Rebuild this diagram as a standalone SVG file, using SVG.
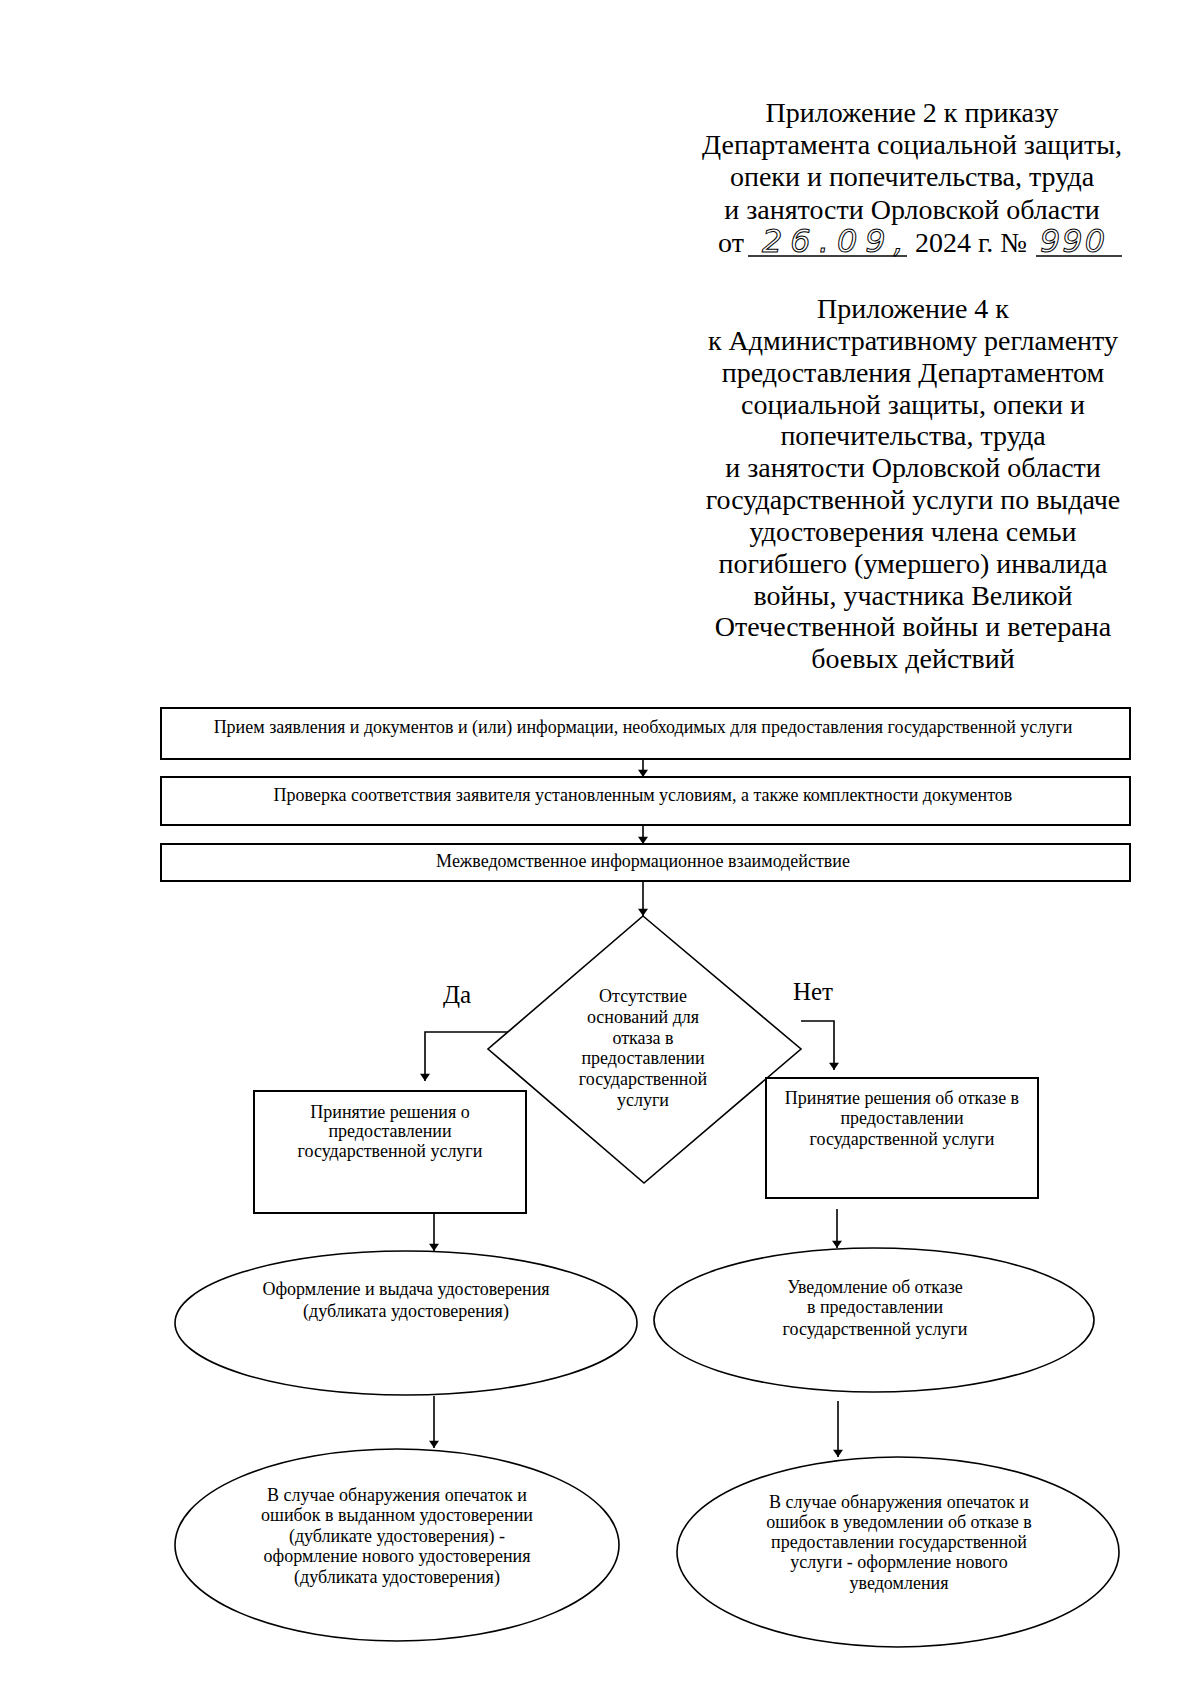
<svg xmlns="http://www.w3.org/2000/svg" width="1200" height="1702" viewBox="0 0 1200 1702">
<style>
  .hdr { font-family: "Liberation Serif", "Times New Roman", serif; font-size: 28px; fill: #000; text-anchor: middle; }
  .hdr-l { font-family: "Liberation Serif", "Times New Roman", serif; font-size: 28px; fill: #000; }
  .hand { font-family: "DejaVu Sans", sans-serif; font-style: italic; font-size: 32px; fill: none; stroke: #000; stroke-width: 1; letter-spacing: 8px; }
  .t { font-family: "Liberation Serif", "Times New Roman", serif; font-size: 18px; fill: #000; text-anchor: middle; }
  .lbl { font-family: "Liberation Serif", "Times New Roman", serif; font-size: 25px; fill: #000; text-anchor: middle; }
  .box { fill: #fff; stroke: #000; stroke-width: 2; }
  .shape { fill: #fff; stroke: #000; stroke-width: 1.6; }
  .conn { fill: none; stroke: #000; stroke-width: 1.6; marker-end: url(#arrow); }
  .ul { stroke: #000; stroke-width: 1.5; }
</style>
<defs>
  <marker id="arrow" viewBox="0 0 10 14" refX="10" refY="7" markerWidth="14" markerHeight="10" markerUnits="userSpaceOnUse" orient="auto">
    <path d="M0,0 L14,7 L0,14 z" transform="scale(0.714,1)" fill="#000"/>
  </marker>
</defs>
<rect x="0" y="0" width="1200" height="1702" fill="#fff"/>

<g id="header">
  <text class="hdr" x="912" y="122">Приложение 2 к приказу</text>
  <text class="hdr" x="912" y="154">Департамента социальной защиты,</text>
  <text class="hdr" x="912" y="186">опеки и попечительства, труда</text>
  <text class="hdr" x="912" y="219">и занятости Орловской области</text>
  <text class="hdr-l" x="718" y="252">от</text>
  <line class="ul" x1="748" y1="256" x2="907" y2="256"/>
  <text class="hand" x="762" y="252">26.09,</text>
  <text class="hdr-l" x="915" y="252">2024 г. №</text>
  <line class="ul" x1="1036" y1="256" x2="1122" y2="256"/>
  <text class="hand" x="1040" y="252" style="letter-spacing:2px">990</text>

  <text class="hdr" x="913" y="318">Приложение 4 к</text>
  <text class="hdr" x="913" y="350">к Административному регламенту</text>
  <text class="hdr" x="913" y="382">предоставления Департаментом</text>
  <text class="hdr" x="913" y="414">социальной защиты, опеки и</text>
  <text class="hdr" x="913" y="445">попечительства, труда</text>
  <text class="hdr" x="913" y="477">и занятости Орловской области</text>
  <text class="hdr" x="913" y="509">государственной услуги по выдаче</text>
  <text class="hdr" x="913" y="541">удостоверения члена семьи</text>
  <text class="hdr" x="913" y="573">погибшего (умершего) инвалида</text>
  <text class="hdr" x="913" y="605">войны, участника Великой</text>
  <text class="hdr" x="913" y="636">Отечественной войны и ветерана</text>
  <text class="hdr" x="913" y="668">боевых действий</text>
</g>

<g id="connectors">
  <line class="conn" x1="643" y1="759" x2="643" y2="777"/>
  <line class="conn" x1="643" y1="825" x2="643" y2="844"/>
  <line class="conn" x1="643" y1="881" x2="643" y2="916"/>
  <polyline class="conn" points="508,1032 425,1032 425,1081"/>
  <polyline class="conn" points="801,1021 834,1021 834,1070"/>
  <line class="conn" x1="434" y1="1213" x2="434" y2="1251"/>
  <line class="conn" x1="837" y1="1209" x2="837" y2="1248"/>
  <line class="conn" x1="434" y1="1396" x2="434" y2="1448"/>
  <line class="conn" x1="838" y1="1401" x2="838" y2="1457"/>
</g>

<g id="step1">
  <rect class="box" x="161" y="708" width="969" height="51"/>
  <text class="t" x="643" y="733">Прием заявления и документов и (или) информации, необходимых для предоставления государственной услуги</text>
</g>
<g id="step2">
  <rect class="box" x="161" y="777" width="969" height="48"/>
  <text class="t" x="643" y="801">Проверка соответствия заявителя установленным условиям, а также комплектности документов</text>
</g>
<g id="step3">
  <rect class="box" x="161" y="844" width="969" height="37"/>
  <text class="t" x="643" y="867">Межведомственное информационное взаимодействие</text>
</g>

<g id="decision">
  <polygon class="shape" points="643,916 801,1049 644,1183 488,1049"/>
  <text class="t" x="643" y="1002">Отсутствие</text>
  <text class="t" x="643" y="1023">оснований для</text>
  <text class="t" x="643" y="1044">отказа в</text>
  <text class="t" x="643" y="1064">предоставлении</text>
  <text class="t" x="643" y="1085">государственной</text>
  <text class="t" x="643" y="1106">услуги</text>
</g>

<g id="label-yes">
  <text class="lbl" x="457" y="1003">Да</text>
</g>
<g id="label-no">
  <text class="lbl" x="813" y="1000">Нет</text>
</g>

<g id="decision-yes">
  <rect class="box" x="254" y="1091" width="272" height="122"/>
  <text class="t" x="390" y="1118">Принятие решения о</text>
  <text class="t" x="390" y="1137">предоставлении</text>
  <text class="t" x="390" y="1157">государственной услуги</text>
</g>

<g id="decision-no">
  <rect class="box" x="766" y="1078" width="272" height="120"/>
  <text class="t" x="902" y="1104">Принятие решения об отказе в</text>
  <text class="t" x="902" y="1124">предоставлении</text>
  <text class="t" x="902" y="1145">государственной услуги</text>
</g>

<g id="issue">
  <ellipse class="shape" cx="406" cy="1323" rx="231" ry="72"/>
  <text class="t" x="406" y="1295">Оформление и выдача удостоверения</text>
  <text class="t" x="406" y="1317">(дубликата удостоверения)</text>
</g>

<g id="notify">
  <ellipse class="shape" cx="874" cy="1320" rx="220" ry="72"/>
  <text class="t" x="875" y="1293">Уведомление об отказе</text>
  <text class="t" x="875" y="1313">в предоставлении</text>
  <text class="t" x="875" y="1335">государственной услуги</text>
</g>

<g id="reissue">
  <ellipse class="shape" cx="397" cy="1545" rx="222" ry="96"/>
  <text class="t" x="397" y="1501">В случае обнаружения опечаток и</text>
  <text class="t" x="397" y="1521">ошибок в выданном удостоверении</text>
  <text class="t" x="397" y="1542">(дубликате удостоверения) -</text>
  <text class="t" x="397" y="1562">оформление нового удостоверения</text>
  <text class="t" x="397" y="1583">(дубликата удостоверения)</text>
</g>

<g id="renotify">
  <ellipse class="shape" cx="898" cy="1552" rx="221" ry="95"/>
  <text class="t" x="899" y="1508">В случае обнаружения опечаток и</text>
  <text class="t" x="899" y="1528">ошибок в уведомлении об отказе в</text>
  <text class="t" x="899" y="1548">предоставлении государственной</text>
  <text class="t" x="899" y="1568">услуги - оформление нового</text>
  <text class="t" x="899" y="1589">уведомления</text>
</g>
</svg>
